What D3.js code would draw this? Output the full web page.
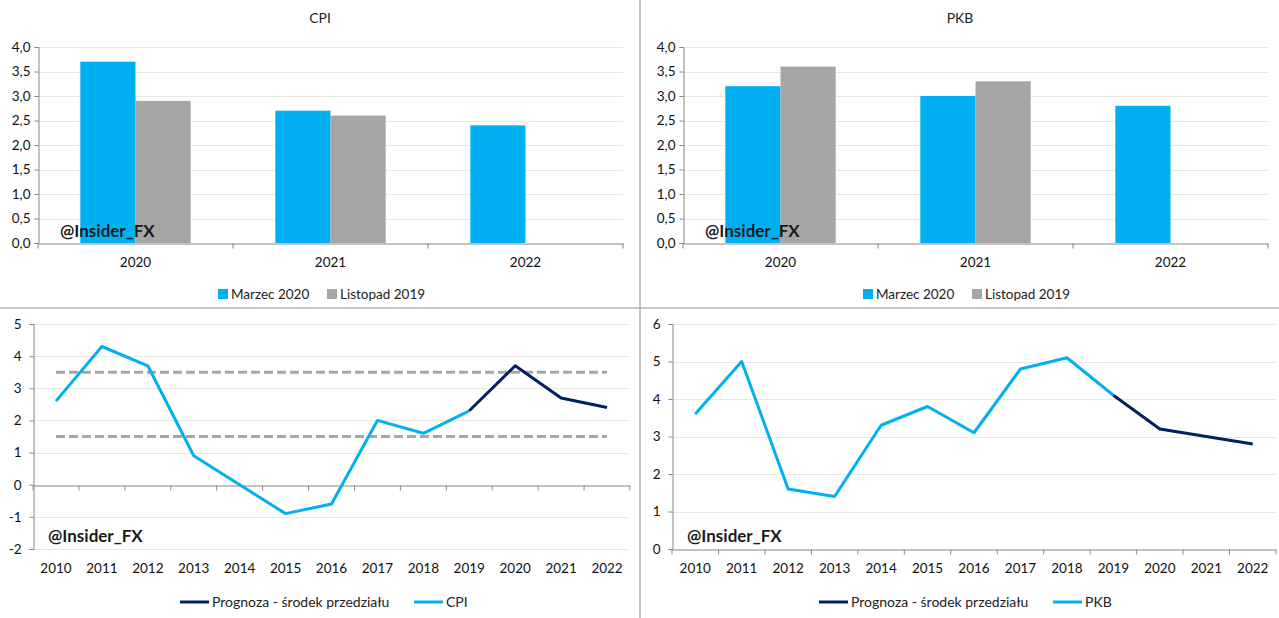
<!DOCTYPE html>
<html>
<head>
<meta charset="utf-8">
<script src="https://cdn.jsdelivr.net/npm/d3@7"></script>
<style>
  body { margin: 0; background: #fff; }
  svg { font-family: Lato, "Open Sans", sans-serif; }
</style>
</head>
<body>
<svg id="chart" width="1279" height="618"></svg>
<script>
// bar charts: forecast comparison
const barYears = ["2020", "2021", "2022"];
const barSeries = ["Marzec 2020", "Listopad 2019"];
const cpiMarch = [3.7, 2.7, 2.4];
const cpiNov = [2.9, 2.6, null];
const gdpMarch = [3.2, 3.0, 2.8];
const gdpNov = [3.6, 3.3, null];
const barTicks = [0, 0.5, 1, 1.5, 2, 2.5, 3, 3.5, 4];

// line charts: history + forecast
const years = ["2010", "2011", "2012", "2013", "2014", "2015", "2016", "2017", "2018", "2019", "2020", "2021", "2022"];
const cpiHist = [2.6, 4.3, 3.7, 0.9, 0.0, -0.9, -0.6, 2.0, 1.6, 2.3, null, null, null];
const cpiFcst = [null, null, null, null, null, null, null, null, null, 2.3, 3.7, 2.7, 2.4];
const gdpHist = [3.6, 5.0, 1.6, 1.4, 3.3, 3.8, 3.1, 4.8, 5.1, 4.1, null, null, null];
const gdpFcst = [null, null, null, null, null, null, null, null, null, 4.1, 3.2, 3.0, 2.8];
const cpiTarget = [1.5, 3.5];

const svg = d3.select("#chart");
const blue = "#00b0f0", grey = "#a6a6a6", navy = "#002060";
const gridCol = "#e9e9dd", axisCol = "#868686";
const comma = v => d3.format(".1f")(v).replace(".", ",");
const plain = v => String(v);

// panel borders
svg.append("line").attr("x1", 640).attr("x2", 640).attr("y1", 0).attr("y2", 618)
    .attr("stroke", "#8c8c8c").attr("stroke-width", 1);
svg.append("line").attr("x1", 0).attr("x2", 1279).attr("y1", 308).attr("y2", 308)
    .attr("stroke", "#8c8c8c").attr("stroke-width", 1);

function watermark(x, y) {
    svg.append("text").attr("x", x).attr("y", y)
        .attr("font-size", 17).attr("font-weight", "bold").attr("fill", "#1a1a1a")
        .text("@Insider_FX");
}

function barChart(ox, left, title, march, nov) {
    const right = left + 585, top = 47, bottom = 243;
    const x = d3.scaleBand().domain(barYears).range([left, right]);
    const y = d3.scaleLinear().domain([0, 4]).range([bottom, top]);
    const g = svg.append("g");

    svg.append("text").attr("x", ox + 320).attr("y", 23).attr("text-anchor", "middle")
        .attr("font-size", 14).attr("fill", "#222").text(title);

    g.selectAll(".grid").data(barTicks.slice(1)).join("line")
        .attr("x1", left).attr("x2", right)
        .attr("y1", d => Math.round(y(d)) + 0.5).attr("y2", d => Math.round(y(d)) + 0.5)
        .attr("stroke", gridCol);

    const bw = x.bandwidth() * 0.283;
    const rows = barYears.map((k, i) => ({ k, vals: [march[i], nov[i]] }));
    rows.forEach(r => {
        r.vals.forEach((v, j) => {
            if (v == null) return;
            g.append("rect")
                .attr("x", x(r.k) + x.bandwidth() / 2 - bw + j * bw)
                .attr("y", y(v)).attr("width", bw).attr("height", y(0) - y(v))
                .attr("fill", j === 0 ? blue : grey);
        });
    });

    const ya = g.append("g").attr("transform", `translate(${left + 0.5},0)`)
        .call(d3.axisLeft(y).tickValues(barTicks).tickFormat(comma).tickSize(4).tickPadding(4));
    const xa = g.append("g").attr("transform", `translate(0,${bottom + 0.5})`)
        .call(d3.axisBottom(x).tickSize(0).tickPadding(14));
    xa.selectAll(".tick").each(function(d) {
        d3.select(this).append("line").attr("x1", -x.bandwidth() / 2).attr("x2", -x.bandwidth() / 2)
            .attr("y1", 0).attr("y2", 5).attr("stroke", axisCol);
    });
    xa.append("line").attr("x1", right).attr("x2", right).attr("y1", 0).attr("y2", 5).attr("stroke", axisCol);
    [ya, xa].forEach(a => {
        a.select(".domain").attr("stroke", axisCol);
        a.selectAll(".tick line").attr("stroke", axisCol);
        a.selectAll("text").attr("font-size", 13.5).attr("fill", "#111").attr("font-family", "Lato, sans-serif");
    });

    watermark(left + 22, 237);

    // legend
    const lg = svg.append("g").attr("transform", `translate(${left + 180},294)`);
    barSeries.forEach((s, i) => {
        const gx = i * 109;
        lg.append("rect").attr("x", gx).attr("y", -5).attr("width", 10).attr("height", 10)
            .attr("fill", i === 0 ? blue : grey);
        lg.append("text").attr("x", gx + 13).attr("y", 5).attr("font-size", 13.5).attr("fill", "#222").text(s);
    });
}

function lineChart(ox, right, domain, ticks, hist, fcst, histName, target) {
    const left = ox + 33, top = 324;
    const bottom = 549;
    const x = d3.scaleBand().domain(years).range([left, right]);
    const y = d3.scaleLinear().domain(domain).range([bottom, top]);
    const cx = d => x(d) + x.bandwidth() / 2;
    const g = svg.append("g");

    g.selectAll(".grid").data(ticks.filter(t => t !== 0 && t !== domain[0])).join("line")
        .attr("x1", left).attr("x2", right)
        .attr("y1", d => Math.round(y(d)) + 0.5).attr("y2", d => Math.round(y(d)) + 0.5)
        .attr("stroke", gridCol);
    if (domain[0] < 0) {
        g.append("line").attr("x1", left).attr("x2", right)
            .attr("y1", Math.round(y(domain[0])) + 0.5).attr("y2", Math.round(y(domain[0])) + 0.5)
            .attr("stroke", gridCol);
    }

    const ya = g.append("g").attr("transform", `translate(${left + 0.5},0)`)
        .call(d3.axisLeft(y).tickValues(ticks).tickFormat(plain).tickSize(4).tickPadding(8));
    const y0 = Math.round(y(0)) + 0.5;
    const xa = g.append("g").attr("transform", `translate(0,${y0})`)
        .call(d3.axisBottom(x).tickSize(0).tickPadding(bottom - y0 + 14));
    xa.selectAll(".tick").each(function() {
        d3.select(this).append("line").attr("x1", -x.bandwidth() / 2).attr("x2", -x.bandwidth() / 2)
            .attr("y1", 0).attr("y2", 5).attr("stroke", axisCol);
    });
    xa.append("line").attr("x1", right).attr("x2", right).attr("y1", 0).attr("y2", 5).attr("stroke", axisCol);
    [ya, xa].forEach(a => {
        a.select(".domain").attr("stroke", axisCol);
        a.selectAll(".tick line").attr("stroke", axisCol);
        a.selectAll("text").attr("font-size", 13.5).attr("fill", "#111").attr("font-family", "Lato, sans-serif");
    });

    if (target) {
        g.selectAll(".target").data(target).join("line")
            .attr("x1", cx(years[0])).attr("x2", cx(years[years.length - 1]))
            .attr("y1", d => y(d)).attr("y2", d => y(d))
            .attr("stroke", grey).attr("stroke-width", 3).attr("stroke-dasharray", "9,4");
    }

    const line = d3.line().defined(d => d.v != null).x(d => cx(d.k)).y(d => y(d.v));
    const hd = years.map((k, i) => ({ k, v: hist[i] }));
    const fd = years.map((k, i) => ({ k, v: fcst[i] }));
    g.append("path").datum(hd).attr("d", line).attr("fill", "none")
        .attr("stroke", blue).attr("stroke-width", 3).attr("stroke-linejoin", "round");
    g.append("path").datum(fd).attr("d", line).attr("fill", "none")
        .attr("stroke", navy).attr("stroke-width", 3).attr("stroke-linejoin", "round");

    watermark(ox + 48, 542);

    const lg = svg.append("g").attr("transform", `translate(${ox + 180},602)`);
    lg.append("line").attr("x1", 0).attr("x2", 29).attr("stroke", navy).attr("stroke-width", 3);
    lg.append("text").attr("x", 32).attr("y", 5).attr("font-size", 14).attr("fill", "#222")
        .text("Prognoza - środek przedziału");
    lg.append("line").attr("x1", 234).attr("x2", 263).attr("stroke", blue).attr("stroke-width", 3);
    lg.append("text").attr("x", 266).attr("y", 5).attr("font-size", 14).attr("fill", "#222").text(histName);
}

barChart(0, 38, "CPI", cpiMarch, cpiNov);
barChart(640, 683, "PKB", gdpMarch, gdpNov);
lineChart(0, 630, [-2, 5], [-2, -1, 0, 1, 2, 3, 4, 5], cpiHist, cpiFcst, "CPI", cpiTarget);
lineChart(639, 1276, [0, 6], [0, 1, 2, 3, 4, 5, 6], gdpHist, gdpFcst, "PKB", null);
</script>
</body>
</html>
